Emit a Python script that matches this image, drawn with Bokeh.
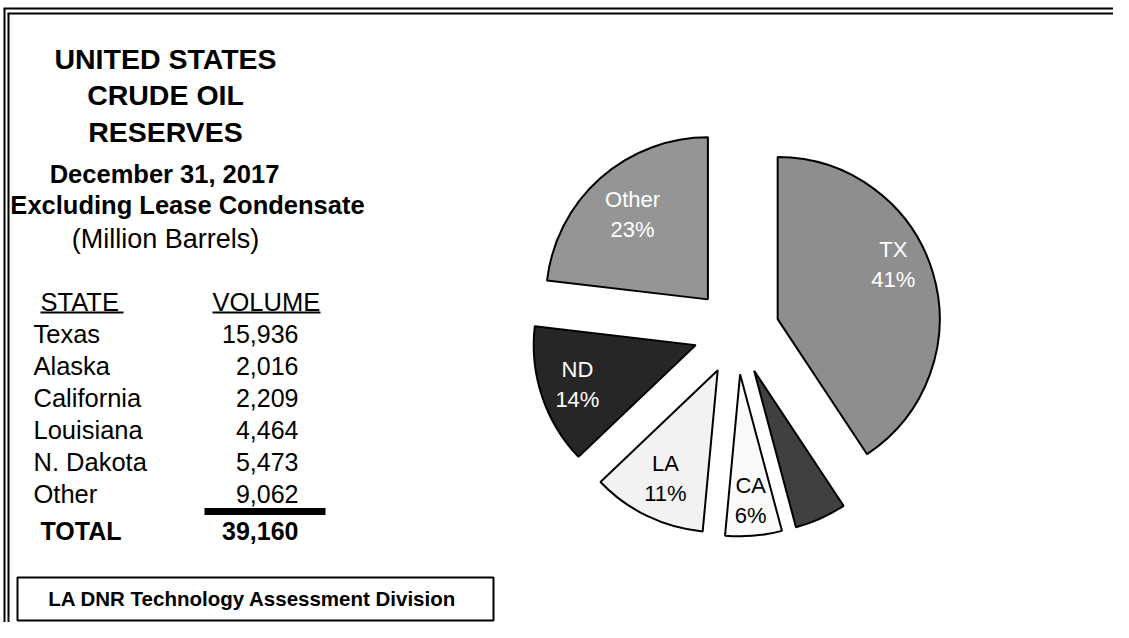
import math
from bokeh.plotting import figure
from bokeh.models import Range1d, ColumnDataSource
from bokeh.embed import file_html
from bokeh.resources import INLINE
from bokeh.core.properties import value

# ---- data ----
states = ["Texas", "Alaska", "California", "Louisiana", "N. Dakota", "Other"]
volumes = [15936, 2016, 2209, 4464, 5473, 9062]
pie_labels = ["TX", "AK", "CA", "LA", "ND", "Other"]
total_label = "TOTAL"
title_lines = ["UNITED STATES", "CRUDE OIL", "RESERVES"]
subtitle_lines = ["December 31, 2017", "Excluding Lease Condensate"]
unit_line = "(Million Barrels)"
source_note = "LA DNR Technology Assessment Division"

# ---- style ----
pie_colors = ["#8e8e8e", "#404040", "#fafafa", "#f2f2f2", "#262626", "#959595"]
label_colors = ["white", None, "black", "black", "white", "white"]
label_radius = [0.79, 0.0, 0.78, 0.74, 0.77, 0.70]
label_nudge = [8.6, 0, 0, 0, 0, 0]
FONT = "Liberation Sans"

W, H = 1113, 622


def Y(yp):
    return 638 - yp


p = figure(width=W, height=H, x_range=Range1d(0, W), y_range=Range1d(Y(H), Y(0)),
           output_backend="svg", toolbar_location=None, x_axis_type=None, y_axis_type=None,
           min_border=0, outline_line_color=None, background_fill_color="white")
p.grid.visible = False

# ---- border (double line) ----
p.segment(x0=[4, 8, 3, 7], y0=[Y(8), Y(13), Y(8), Y(13)],
          x1=[4, 8, W, W], y1=[Y(640), Y(640), Y(8), Y(13)],
          line_color="black", line_width=2)

# ---- title ----
tx = 165
p.text(x=[tx] * 3, y=[Y(58), Y(94), Y(131)], text=title_lines, text_align="center",
       text_baseline="middle", text_font=value(FONT), text_font_size="28.5px",
       text_font_style="bold", text_color="black")
p.text(x=[164, 187], y=[Y(173), Y(204)], text=subtitle_lines, text_align="center",
       text_baseline="middle", text_font=value(FONT), text_font_size="25.5px",
       text_font_style="bold", text_color="black")
p.text(x=[165], y=[Y(238)], text=[unit_line], text_align="center",
       text_baseline="middle", text_font=value(FONT), text_font_size="27px",
       text_color="black")

# ---- table ----
p.text(x=[40, 212], y=[Y(301)] * 2, text=["STATE", "VOLUME"], text_align="left",
       text_baseline="middle", text_font=value(FONT), text_font_size="25.5px", text_color="black")
p.segment(x0=[40, 212], y0=[Y(312)] * 2, x1=[123, 320], y1=[Y(312)] * 2,
          line_color="black", line_width=2)

row_y = [Y(333 + 32 * i) for i in range(len(states))]
p.text(x=[33] * len(states), y=row_y, text=states, text_align="left", text_baseline="middle",
       text_font=value(FONT), text_font_size="25.5px", text_color="black")
p.text(x=[298] * len(volumes), y=row_y, text=[f"{v:,}" for v in volumes], text_align="right",
       text_baseline="middle", text_font=value(FONT), text_font_size="25px", text_color="black")
p.segment(x0=[204], y0=[Y(511)], x1=[325], y1=[Y(511)], line_color="black", line_width=7)
total = sum(volumes)
p.text(x=[40], y=[Y(530)], text=[total_label], text_align="left", text_baseline="middle",
       text_font=value(FONT), text_font_size="25px", text_font_style="bold", text_color="black")
p.text(x=[298], y=[Y(530)], text=[f"{total:,}"], text_align="right", text_baseline="middle",
       text_font=value(FONT), text_font_size="25px", text_font_style="bold", text_color="black")

# ---- source box ----
p.quad(left=[17], right=[493], top=[Y(577)], bottom=[Y(620)], fill_color="white",
       line_color="black", line_width=2)
p.text(x=[252], y=[Y(598)], text=[source_note], text_align="center", text_baseline="middle",
       text_font=value(FONT), text_font_size="20.5px", text_font_style="bold", text_color="black")

# ---- exploded pie ----
cx, cy, r, explode = 736, Y(331), 162, 43
xs, ys, starts, ends = [], [], [], []
lx, ly, ltxt, lcol = [], [], [], []
cum = 0
for i, v in enumerate(volumes):
    a0 = cum / total
    a1 = (cum + v) / total
    cum += v
    st = 90 - 360 * a1
    en = 90 - 360 * a0
    mid = math.radians((st + en) / 2)
    ox = cx + explode * math.cos(mid)
    oy = cy + explode * math.sin(mid)
    xs.append(ox); ys.append(oy); starts.append(st); ends.append(en)
    if label_colors[i] is not None:
        lm = mid + math.radians(label_nudge[i])
        lx.append(ox + label_radius[i] * r * math.cos(lm))
        ly.append(oy + label_radius[i] * r * math.sin(lm))
        ltxt.append(f"{pie_labels[i]}\n{round(v / total * 100)}%")
        lcol.append(label_colors[i])

src = ColumnDataSource(dict(x=xs, y=ys, start=starts, end=ends, color=pie_colors))
p.wedge(x="x", y="y", radius=r, start_angle="start", end_angle="end", start_angle_units="deg",
        end_angle_units="deg", direction="anticlock", fill_color="color", line_color="black",
        line_width=2, source=src)
lsrc = ColumnDataSource(dict(x=lx, y=ly, text=ltxt, color=lcol))
p.text(x="x", y="y", text="text", text_color="color", text_align="center",
       text_baseline="middle", text_font=value(FONT), text_font_size="22px",
       text_line_height=1.2, source=lsrc)

open("out.html", "w").write(file_html(p, INLINE))
